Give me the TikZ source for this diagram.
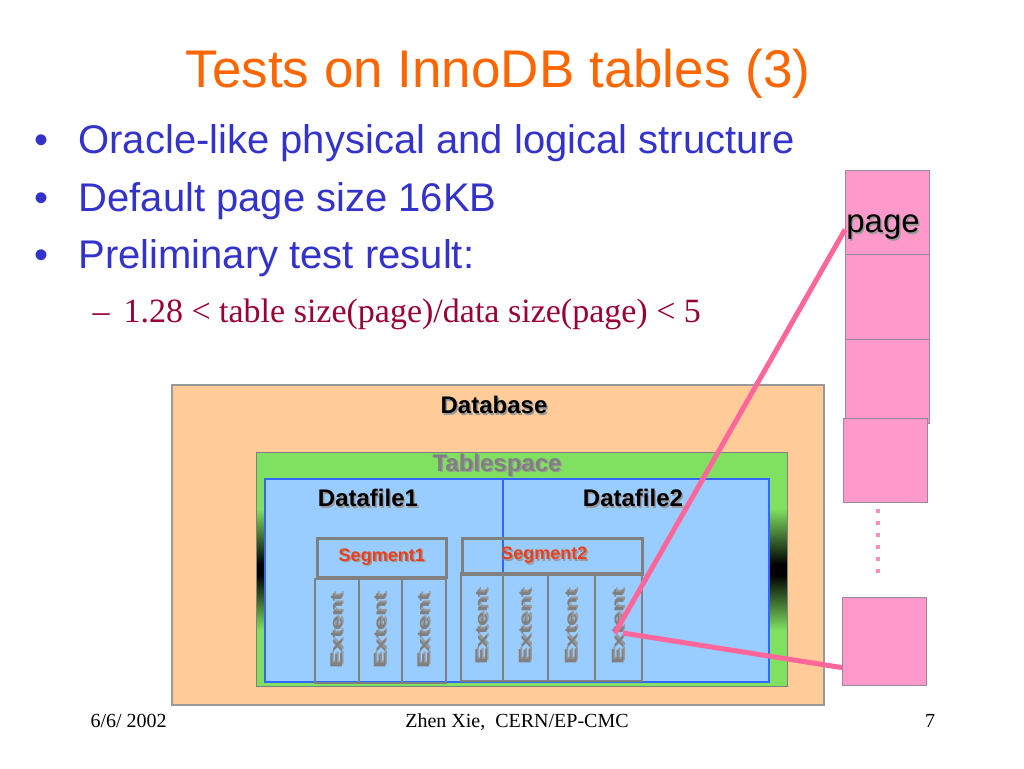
\documentclass[tikz,border=0pt]{standalone}
\usepackage{fontspec}
\setmainfont{Liberation Serif}
\setsansfont{Liberation Sans}
\usetikzlibrary{positioning,calc}

\definecolor{titleorange}{RGB}{255,102,0}
\definecolor{bulletblue}{RGB}{51,51,204}
\definecolor{subred}{RGB}{153,0,51}
\definecolor{dbpeach}{RGB}{255,204,153}
\definecolor{tsgreen}{RGB}{128,224,96}
\definecolor{dfblue}{RGB}{153,204,255}
\definecolor{dfline}{RGB}{51,102,255}
\definecolor{seggray}{RGB}{128,128,128}
\definecolor{segred}{RGB}{232,64,28}
\definecolor{pagepink}{RGB}{255,153,204}
\definecolor{pageline}{RGB}{153,136,153}
\definecolor{linkpink}{RGB}{255,102,153}

\pgfdeclareverticalshading{tsband}{100bp}{color(0bp)=(tsgreen); color(37bp)=(tsgreen); color(49bp)=(black); color(51bp)=(black); color(63bp)=(tsgreen); color(100bp)=(tsgreen)}

% testo con ombra
\newcommand{\shtext}[2]{\makebox[0pt][l]{\hspace{1.5pt}\raisebox{-1.5pt}{\color{black!40}#2}}{\color{#1}#2}}

\begin{document}
\begin{tikzpicture}[x=1pt,y=-1pt,
  area/.style={draw,rectangle,inner sep=0pt,anchor=north west},
  segbox/.style={area,draw=seggray,line width=2.5pt,font=\fontsize{18}{20}\selectfont\sffamily\bfseries},
  extentbox/.style={draw=seggray,line width=2.5pt,rotate=90,inner sep=0pt,font=\fontsize{17}{20}\selectfont\sffamily\bfseries},
  pagebox/.style={area,fill=pagepink,draw=pageline,line width=1.2pt,minimum width=84},
  boxlabel/.style={font=\fontsize{24}{28}\selectfont\sffamily\bfseries},
  bullet/.style={anchor=base west,text=bulletblue,font=\fontsize{40}{44}\selectfont\sffamily},
  footer/.style={anchor=base,font=\fontsize{20}{22}\selectfont},
  link/.style={draw=linkpink,line width=5pt}]

\useasboundingbox (0,0) rectangle (1024,768);

% ---- titolo e punti ----
\node[anchor=base,text=titleorange,font=\fontsize{53}{60}\selectfont\sffamily] (title) at (498,87) {Tests on InnoDB tables (3)};

\foreach \y/\t [count=\i] in {153/Oracle-like physical and logical structure,211/Default page size 16KB,268/Preliminary test result:}{
  \node[bullet] (dot\i) at (31,\y) {•};
  \node[bullet] (item\i) at (75,\y) {\t};
}
\node[anchor=base west,text=subred,font=\fontsize{34}{38}\selectfont] (sub) at (89,322) {–\hspace{14pt}1.28 < table size(page)/data size(page) < 5};

% ---- Database / Tablespace / Datafile ----
\node[area,fill=dbpeach,draw=seggray!80,line width=1.5pt,minimum width=652,minimum height=320] (db) at (171,384) {};
\node[area,shade,shading=tsband,draw=seggray,line width=1pt,minimum width=531,minimum height=234] (ts) at (256,452) {};
\node[area,fill=dfblue,draw=dfline,line width=2pt,minimum width=504,minimum height=203] (df) at (264,478) {};
\draw[dfline,line width=1.5pt] (503,478) -- (503,573);

\node[boxlabel] (dblbl) at (494,406) {\shtext{black}{Database}};
\node[boxlabel] (tslbl) at (497,466) {\shtext{seggray}{Tablespace}};
\node[boxlabel] (df1) at (368,499) {\shtext{black}{Datafile1}};
\node[boxlabel] (df2) at (633,499) {\shtext{black}{Datafile2}};

% ---- segmenti ----
\node[segbox,minimum width=129,minimum height=39] (seg1) at (316,537) {\shtext{segred}{Segment1}};
\node[segbox,minimum width=180,minimum height=36] (seg2) at (461,537) {\hspace{-16pt}\shtext{segred}{Segment2}};

% ---- extent ----
\foreach \xc/\w [count=\i] in {337/44,380.5/43,424/44}
  \node[extentbox,minimum width=104,minimum height=\w] (extA\i) at (\xc,631) {\scalebox{1.45}[1]{\shtext{seggray}{Extent}}};
\foreach \xc/\w [count=\i] in {482/42,525.5/45,571.5/47,618.5/47}
  \node[extentbox,minimum width=108,minimum height=\w] (extB\i) at (\xc,627) {\scalebox{1.45}[1]{\shtext{seggray}{Extent}}};

% ---- pagine ----
\node[pagebox,minimum height=84] (page1) at (845,170) {};
\node[pagebox,minimum height=85] (page2) at (845,254) {};
\node[pagebox,minimum height=84] (page3) at (845,339) {};
\node[pagebox,minimum height=84] (page4) at (843,418) {};
\node[pagebox,minimum height=88] (page5) at (842,597) {};
\node[font=\fontsize{33}{36}\selectfont\sffamily] (pagelbl) at (883,228) {\shtext{black}{page}};
\draw[pagepink!80!linkpink,line width=4pt,dash pattern=on 4pt off 8pt] (page4.south) ++(-8,6) -- ++(0,68);

% ---- collegamenti ----
\coordinate (hook) at (615,633);
\draw[link] (hook) -- ([yshift=-17pt]page1.west);
\draw[link] ([xshift=8pt]hook) -- ([yshift=-26pt]page5.west);

% ---- piè di pagina ----
\node[footer,anchor=base west] (date) at (87,727) {6/6/ 2002};
\node[footer] (author) at (517,727) {Zhen Xie,\ \ CERN/EP-CMC};
\node[footer] (num) at (930,727) {7};

\end{tikzpicture}
\end{document}
